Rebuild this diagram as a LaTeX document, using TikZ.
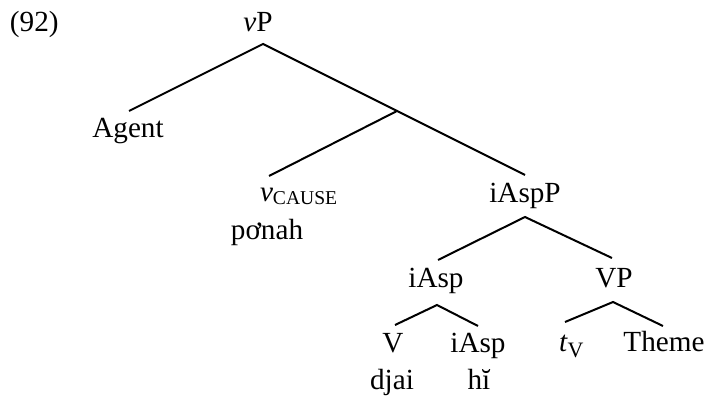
\documentclass[tikz,border=0pt]{standalone}
\usepackage{fontspec}
\setmainfont{Liberation Serif}
\begin{document}
\begin{tikzpicture}[x=0.5pt,y=-0.5pt,
  lbl/.style={inner sep=0pt,outer sep=0pt,anchor=base,font=\fontsize{14.6}{16}\selectfont},
  lblw/.style={lbl,anchor=base west},
  branch/.style={line width=1pt,line cap=butt}]
\useasboundingbox (0,0) rectangle (707,400);
% labels
\node[lblw] (ex) at (10,32) {(92)};
\node[lbl] (vP) at (258,32) {\textit{v}P};
\node[lbl] (agent) at (128,138) {Agent};
\node[lblw] (vcause) at (260,202) {\textit{v}\raisebox{-1.5pt}{\fontsize{9.8}{10}\selectfont CAUSE}};
\node[lbl] (ponah) at (267,240) {pơnah};
\node[lbl] (iAspP) at (525,203) {iAspP};
\node[lbl] (iAsp) at (436,288) {iAsp};
\node[lbl] (VP) at (614,288) {VP};
\node[lbl] (V) at (393,353) {V};
\node[lbl] (iAsp2) at (478,353) {iAsp};
\node[lblw] (tV) at (559,352) {\textit{t}\raisebox{-3pt}{\fontsize{11}{12}\selectfont V}};
\node[lbl] (theme) at (664,352) {Theme};
\node[lbl] (djai) at (392,390) {djai};
\node[lbl] (hi) at (479,390) {hĭ};
% branch points
\coordinate (vPb) at (263,44);
\coordinate (agentt) at (129,111);
\coordinate (bar) at (397,111);
\coordinate (vcauset) at (269,176);
\coordinate (iAspPt) at (525,175);
\coordinate (iAspPb) at (525,217);
\coordinate (iAspt) at (438,260);
\coordinate (VPt) at (612,258);
\coordinate (iAspb) at (437,305);
\coordinate (Vt) at (395,325);
\coordinate (iAsp2t) at (478,326);
\coordinate (VPb) at (613,302);
\coordinate (tVt) at (565,322);
\coordinate (themet) at (663,326);
% branches
\draw[branch] (agentt) -- (vPb) -- (bar);
\draw[branch] (vcauset) -- (bar) -- (iAspPt);
\draw[branch] (iAspt) -- (iAspPb) -- (VPt);
\draw[branch] (Vt) -- (iAspb) -- (iAsp2t);
\draw[branch] (tVt) -- (VPb) -- (themet);
\end{tikzpicture}
\end{document}
